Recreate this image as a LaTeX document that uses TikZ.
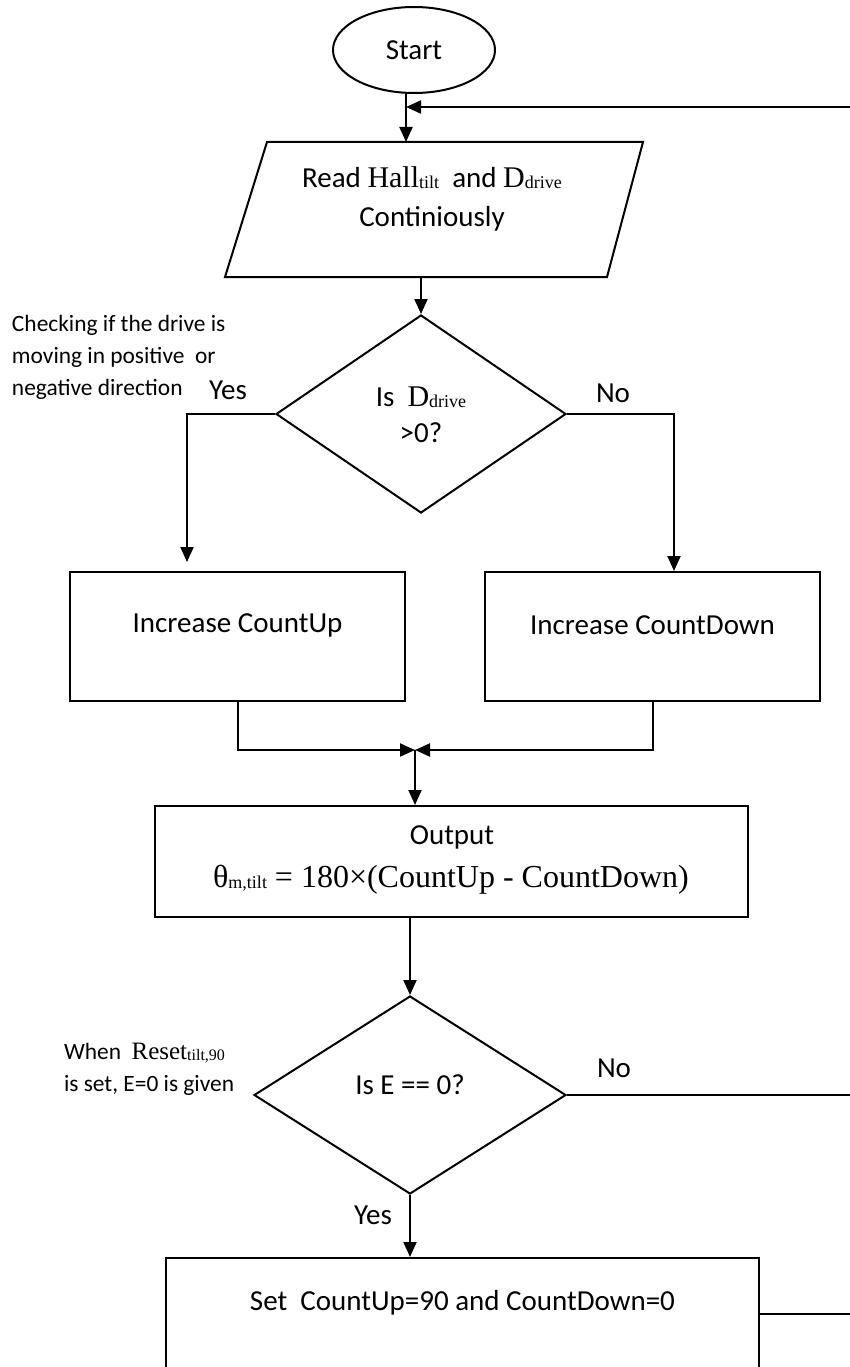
\documentclass[tikz,border=0pt]{standalone}
\usepackage{fontspec}
\setmainfont{Carlito}
\newfontfamily\tms{Liberation Serif}
\usetikzlibrary{shapes.geometric,arrows.meta}
\newcommand\sbt[1]{\raisebox{-1pt}{\tms\fontsize{18}{18}\selectfont #1}}
\newcommand\bigt[1]{{\tms\fontsize{30}{30}\selectfont #1}}
\newcommand\hugt[1]{{\tms\fontsize{32}{32}\selectfont #1}}
\newcommand\smt[1]{{\tms\fontsize{25}{25}\selectfont #1}}
\newcommand\smsb[1]{\raisebox{-1pt}{\tms\fontsize{16}{16}\selectfont #1}}
\begin{document}
\begin{tikzpicture}[x=1pt,y=-1pt,
  line width=2pt,
  arr/.style={-{Triangle[length=15pt,width=13pt]}},
  main/.style={font=\fontsize{29}{36}\selectfont, align=center, inner sep=0pt},
  note/.style={font=\fontsize{23.4}{32}\selectfont, align=left, inner sep=0pt},
  box/.style={draw, rectangle, inner sep=0pt},
  dia/.style={draw, diamond, inner sep=0pt, aspect=1.5}
]
\useasboundingbox (0,0) rectangle (850,1367);
\clip (0,0) rectangle (850,1367);

% start
\node[draw, ellipse, minimum width=162pt, minimum height=86pt, main] (start) at (414,50) {Start};
\coordinate (j0) at (406,107);
\coordinate (fbR) at (850,107);

% read (parallelogram)
\node[minimum width=416pt, minimum height=133pt, inner sep=0pt] (read) at (434,209.5) {};
\draw ([xshift=42pt]read.north west) -- (read.north east) -- ([xshift=-36pt]read.south east) -- (read.south west) -- cycle;
\node[main, font=\fontsize{29}{39}\selectfont] (readtxt) at (432,199) {Read \bigt{Hall}\sbt{tilt}\ \ and \bigt{D}\sbt{drive}\\Continiously};

\draw[arr] (start.south -| j0) -- (j0 |- read.north);
\draw[arr] (fbR) -- (j0);

% decision 1
\node[dia, minimum width=290pt, minimum height=198pt] (d1) at (421,414) {};
\node[main] (d1txt) at (421,415) {Is\ \ \bigt{D}\sbt{drive}\\>0?};
\draw[arr] (read.south -| d1.north) -- (d1.north);

\node[note, anchor=west] (n1) at (11,357) {Checking if the drive is\\moving in positive\ \ or\\negative direction};
\node[main] (yes1) at (228,390) {Yes};
\node[main] (no1) at (613,393) {No};

% count boxes
\node[box, minimum width=335pt, minimum height=129pt] (up) at (237.5,636.5) {};
\node[main] (uptxt) at (237.5,625) {Increase CountUp};
\node[box, minimum width=335pt, minimum height=129pt] (dn) at (652.5,636.5) {};
\node[main] (dntxt) at (652.5,625) {Increase CountDown};

\coordinate (yesend) at (187,562);
\draw[arr] (d1.west) -| (yesend);
\draw[arr] (d1.east) -| ([xshift=21.5pt]dn.north);

% merge
\coordinate (m) at (415,750);
\draw[arr] (up.south) |- (m);
\draw[arr] (dn.south) |- (m);

% output
\node[box, minimum width=593pt, minimum height=111pt] (out) at (451.5,861.5) {};
\node[main] (outtxt1) at (452,837) {Output};
\node[main] (outtxt2) at (451,880) {\hugt{θ}\sbt{m,tilt}\hugt{ = 180×(CountUp - CountDown)}};
\draw[arr] (m) -- (m |- out.north);

% decision 2
\node[dia, minimum width=312pt, minimum height=198pt] (d2) at (410,1095) {};
\node[main] (d2txt) at (410,1085) {Is E == 0?};
\draw[arr] (out.south -| d2.north) -- (d2.north);
\node[note, anchor=west] (n2) at (63,1069) {When \ \smt{Reset}\smsb{tilt,90}\\is set, E=0 is given};
\coordinate (noR) at (850,1095);
\draw (d2.east) -- (noR);
\node[main] (no2) at (614,1068) {No};
\node[main] (yes2) at (373,1215) {Yes};

% set box
\node[box, minimum width=593pt, minimum height=112pt] (set) at (462.5,1314) {};
\node[main] (settxt) at (462.5,1303) {Set\ \ CountUp=90 and CountDown=0};
\draw[arr] (d2.south) -- (d2.south |- set.north);
\coordinate (setR) at (850,1314);
\draw (set.east) -- (setR);
\end{tikzpicture}
\end{document}
